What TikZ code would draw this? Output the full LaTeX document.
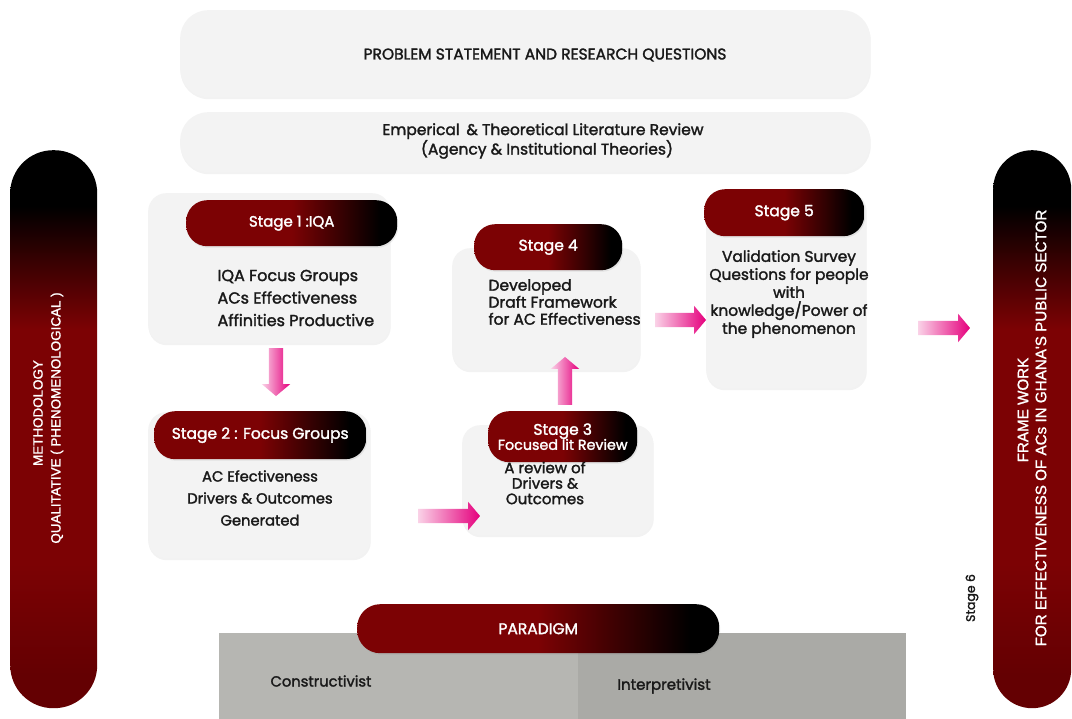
\documentclass[tikz,border=0pt]{standalone}
\usepackage{fontspec}
\setmainfont{Poppins}[FakeBold=1.8]
\newfontfamily\barfont{Liberation Sans}[FakeBold=1.2]
\usetikzlibrary{shapes.arrows,shadows,calc}

\definecolor{dred}{RGB}{124,2,4}
\definecolor{dredd}{RGB}{100,0,2}
\definecolor{boxgray}{RGB}{243,243,243}
\definecolor{magen}{RGB}{229,0,125}
\definecolor{pinkfade}{RGB}{250,210,231}
\definecolor{paraL}{RGB}{182,182,178}
\definecolor{paraR}{RGB}{170,170,166}
\definecolor{ink}{RGB}{25,25,25}

% red-to-black shading for the stage headers (25bp..75bp spans the path)
\pgfdeclarehorizontalshading{pillshade}{100bp}{color(0bp)=(dred); color(50bp)=(dred); color(71bp)=(black); color(100bp)=(black)}
% black top fading into red for the two side bars
\pgfdeclareverticalshading{sideshade}{100bp}{color(0bp)=(dredd); color(28bp)=(dredd); color(38bp)=(dred); color(59bp)=(dred); color(70bp)=(black); color(100bp)=(black)}

\tikzset{
  lbox/.style={fill=boxgray, rounded corners=18pt, anchor=north west, inner sep=0,
    drop shadow={opacity=0.10, shadow xshift=0.5pt, shadow yshift=-2pt}},
  topbox/.style={lbox, rounded corners=28pt},
  pill/.style={shade, shading=pillshade, rounded corners=21pt, anchor=north west,
    inner sep=0, text=white, font=\fontsize{15.5}{17}\selectfont,
    drop shadow={opacity=0.15, shadow xshift=1pt, shadow yshift=-1.5pt}},
  sidebar/.style={shade, shading=sideshade, anchor=north west, inner sep=0},
  sidetext/.style={rotate=90, text=white, inner sep=0},
  body/.style={text=ink, font=\fontsize{14}{22}\selectfont},
  fatarrow/.style={single arrow, shade, left color=pinkfade, right color=magen,
    inner xsep=0pt, inner ysep=7pt, single arrow head extend=7pt,
    single arrow head indent=0pt, single arrow tip angle=100,
    sloped, allow upside down},
}

\begin{document}
\begin{tikzpicture}[x=1pt, y=-1pt]
\useasboundingbox[fill=white] (0,0) rectangle (1072,719);

% header boxes
\node[topbox, minimum width=690pt, minimum height=87pt] (ps) at (180,10) {};
\node[text=ink, font=\fontsize{15.5}{17}\selectfont] (pst) at (545,55) {PROBLEM STATEMENT AND RESEARCH QUESTIONS};
\node[topbox, minimum width=690pt, minimum height=60pt] (lit) at (180,112) {};
\node[text=ink, align=center, font=\fontsize{15.5}{18}\selectfont] (litt) at (543,141)
  {Emperical \,\& Theoretical Literature Review\\\hspace*{8pt}(Agency \& Institutional Theories)};

% side bars
\node[sidebar, rounded corners=43pt, minimum width=87pt, minimum height=558pt] (meth) at (10,150) {};
\node[sidetext, font=\barfont\fontsize{13.4}{15}\selectfont] (metht1) at (38,413) {METHODOLOGY};
\node[sidetext, font=\barfont\fontsize{13.4}{15}\selectfont] (metht2) at (57,418) {QUALITATIVE ( PHENOMENOLOGICAL )};
\node[sidebar, rounded corners=39pt, minimum width=78pt, minimum height=558pt] (fw) at (993,150) {};
\node[sidetext, font=\barfont\fontsize{15.2}{17}\selectfont] (fwt1) at (1023,410) {FRAME WORK};
\node[sidetext, font=\barfont\fontsize{15.2}{17}\selectfont] (fwt2) at (1041,428) {FOR EFFECTIVENESS OF ACs IN GHANA'S PUBLIC SECTOR};
\node[rotate=90, text=ink, font=\fontsize{12.5}{14}\selectfont] (s6) at (972,598) {Stage 6};

% stage 1
\node[lbox, minimum width=242pt, minimum height=150pt] (b1) at (148,193) {};
\node[pill, minimum width=211pt, minimum height=46pt, font=\fontsize{15}{17}\selectfont] (h1) at (186,200) {Stage 1 :IQA};
\node[body, align=left, anchor=west, font=\fontsize{16}{22.5}\selectfont] (t1) at (214,298) {IQA Focus Groups\\ACs Effectiveness\\Affinities Productive};

% stage 2
\node[lbox, minimum width=222pt, minimum height=146pt] (b2) at (148,412) {};
\node[pill, minimum width=212pt, minimum height=48pt] (h2) at (154,411) {Stage 2 : Focus Groups};
\node[body, align=center, font=\fontsize{14.7}{22}\selectfont] (t2) at (260,498) {AC Efectiveness\\Drivers \& Outcomes\\Generated};

% stage 3
\node[lbox, minimum width=191pt, minimum height=110pt] (b3) at (462,425) {};
\node[pill, minimum width=149pt, minimum height=51pt, align=center, font=\fontsize{15.5}{16}\selectfont] (h3) at (488,411)
  {Stage 3\\[-1pt]{\fontsize{14.3}{15}\selectfont Focused lit Review}};
\node[body, align=center, font=\fontsize{15}{15.5}\selectfont] (t3) at (545,483) {A review of\\Drivers \&\\Outcomes};

% stage 4
\node[lbox, minimum width=188pt, minimum height=122pt] (b4) at (452,248) {};
\node[pill, minimum width=148pt, minimum height=46pt] (h4) at (474,224) {Stage 4};
\node[body, align=left, anchor=west, font=\fontsize{15.5}{17}\selectfont] (t4) at (485,302) {Developed\\Draft Framework\\for AC Effectiveness};

% stage 5
\node[lbox, minimum width=160pt, minimum height=196pt] (b5) at (706,192) {};
\node[pill, minimum width=160pt, minimum height=47pt] (h5) at (704,189) {Stage 5};
\node[body, align=center, font=\fontsize{15.4}{18}\selectfont] (t5) at (789,294)
  {Validation Survey\\Questions for people\\with\\knowledge/Power of\\the phenomenon};

% paradigm
\node[fill=paraL, anchor=north west, minimum width=359pt, minimum height=86pt, inner sep=0] (parL) at (219,633) {};
\node[fill=paraR, anchor=north west, minimum width=328pt, minimum height=86pt, inner sep=0] (parR) at (578,633) {};
\node[pill, rounded corners=23pt, minimum width=362pt, minimum height=49pt, font=\fontsize{15.5}{17}\selectfont] (par) at (357,604) {PARADIGM};
\node[body, font=\fontsize{14.7}{16}\selectfont] (con) at (321,681) {Constructivist};
\node[body, font=\fontsize{15}{16}\selectfont] (int) at (664,686) {Interpretivist};

% flow arrows
\coordinate (a1s) at (276,345); \coordinate (a1e) at (276,393);
\coordinate (a2s) at (415,516); \coordinate (a2e) at (477,516);
\coordinate (a3s) at (565,408); \coordinate (a3e) at (565,360);
\coordinate (a4s) at (652,320); \coordinate (a4e) at (703,320);
\coordinate (a5s) at (915,328); \coordinate (a5e) at (967,328);
\path (a1s) -- (a1e) node[midway, fatarrow, minimum height=48pt] (ar1) {};
\path (a2s) -- (a2e) node[midway, fatarrow, minimum height=62pt] (ar2) {};
\path (a3s) -- (a3e) node[midway, fatarrow, minimum height=48pt] (ar3) {};
\path (a4s) -- (a4e) node[midway, fatarrow, minimum height=51pt] (ar4) {};
\path (a5s) -- (a5e) node[midway, fatarrow, minimum height=52pt] (ar5) {};
\end{tikzpicture}
\end{document}
